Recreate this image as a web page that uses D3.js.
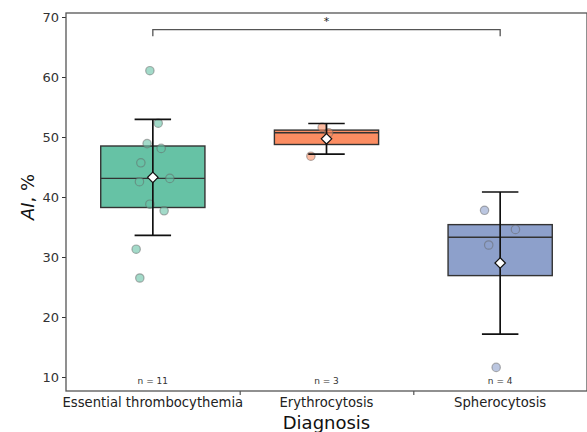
<!DOCTYPE html>
<html>
<head>
<meta charset="utf-8">
<script src="https://cdn.jsdelivr.net/npm/d3@7"></script>
<style>
  body { margin: 0; background: #fff; }
  text { font-family: "DejaVu Sans", sans-serif; }
</style>
</head>
<body>
<div id="chart"></div>
<script>
// categories and the raw points
const diagnoses = ["Essential thrombocythemia", "Erythrocytosis", "Spherocytosis"];
const colors = ["#66c2a5", "#fc8d62", "#8da0cb"];

const etValues = [61.05, 52.3, 48.9, 48.1, 45.7, 42.55, 43.1, 38.8, 37.7, 31.3, 26.5];
const etJitter = [-0.017, 0.031, -0.033, 0.048, -0.069, -0.077, 0.098, -0.017, 0.065, -0.096, -0.075];
const eryValues = [51.6, 50.7, 46.8];
const eryJitter = [-0.025, 0.013, -0.09];
const sphValues = [37.78, 34.6, 32.0, 11.6];
const sphJitter = [-0.09, 0.088, -0.066, -0.023];

const yTicks = [10, 20, 30, 40, 50, 60, 70];
const sigPair = [0, 2];
const sigLabel = "*";

const groups = [
  {values: etValues, jitter: etJitter},
  {values: eryValues, jitter: eryJitter},
  {values: sphValues, jitter: sphJitter}
];

const canvWidth = 587, canvHeight = 432;
const margin = {top: 13, right: 0, bottom: 41, left: 66};
const width = canvWidth - margin.left - margin.right;
const height = canvHeight - margin.top - margin.bottom;

const svg = d3.select("#chart").append("svg")
    .attr("width", canvWidth)
    .attr("height", canvHeight);

const g = svg.append("g")
    .attr("transform", "translate(" + margin.left + "," + margin.top + ")");

const xScale = d3.scaleLinear().domain([-0.5, 2.5]).range([0, width]);
const yScale = d3.scaleLinear().domain([7.667, 70.667]).range([height, 0]);

// y axis
const yAxis = d3.axisLeft(yScale).tickValues(yTicks).tickSize(4).tickPadding(3);
const gy = g.append("g").call(yAxis);
gy.select(".domain").remove();
gy.selectAll("line").attr("stroke", "#333");
gy.selectAll("text").attr("font-size", 13).attr("fill", "#333")
    .style("font-family", "DejaVu Sans, sans-serif");

// x axis, ticks sit between the categories
const xAxis = d3.axisBottom(xScale).tickValues([0.5, 1.5]).tickSize(4).tickFormat("");
const gx = g.append("g").attr("transform", "translate(0," + height + ")").call(xAxis);
gx.select(".domain").remove();
gx.selectAll("line").attr("stroke", "#333");

diagnoses.forEach((d, i) => {
  g.append("text")
    .attr("x", xScale(i))
    .attr("y", height + 16)
    .attr("text-anchor", "middle")
    .attr("font-size", 13.2)
    .attr("fill", "#222")
    .text(d);
});

// frame
g.append("rect")
    .attr("width", width).attr("height", height)
    .attr("fill", "none")
    .attr("stroke", "#555")
    .attr("stroke-width", 1.3);

// axis titles
svg.append("text")
    .attr("x", margin.left + xScale(1))
    .attr("y", canvHeight - 3)
    .attr("text-anchor", "middle")
    .attr("font-size", 18)
    .attr("fill", "#111")
    .text("Diagnosis");

const yl = svg.append("text")
    .attr("transform", "translate(34," + (margin.top + 184) + ") rotate(-90)")
    .attr("text-anchor", "middle")
    .attr("font-size", 18)
    .attr("fill", "#111");
yl.append("tspan").attr("font-style", "italic").text("AI");
yl.append("tspan").text(", %");

const boxW = 0.6, capW = 0.21;

groups.forEach((grp, i) => {
  const sorted = grp.values.slice().sort(d3.ascending);
  const q1 = d3.quantile(sorted, 0.25);
  const med = d3.quantile(sorted, 0.5);
  const q3 = d3.quantile(sorted, 0.75);
  const mean = d3.mean(sorted);
  const sd = d3.deviation(sorted);
  const cx = xScale(i);
  const bw = xScale(boxW) - xScale(0);
  const cw = xScale(capW) - xScale(0);

  // box
  g.append("rect")
    .attr("x", cx - bw / 2)
    .attr("y", yScale(q3))
    .attr("width", bw)
    .attr("height", yScale(q1) - yScale(q3))
    .attr("fill", colors[i])
    .attr("stroke", "#333")
    .attr("stroke-width", 1.4);

  g.append("line")
    .attr("x1", cx - bw / 2).attr("x2", cx + bw / 2)
    .attr("y1", yScale(med)).attr("y2", yScale(med))
    .attr("stroke", "#333").attr("stroke-width", 1.4);

  // points
  g.selectAll(null)
    .data(grp.values.map((v, k) => ({v: v, j: grp.jitter[k]})))
    .enter().append("circle")
    .attr("cx", d => xScale(i + d.j))
    .attr("cy", d => yScale(d.v))
    .attr("r", 4.2)
    .attr("fill", colors[i])
    .attr("fill-opacity", 0.6)
    .attr("stroke", "#666")
    .attr("stroke-opacity", 0.5)
    .attr("stroke-width", 1.2);

  // mean +- sd whiskers
  g.append("line")
    .attr("x1", cx).attr("x2", cx)
    .attr("y1", yScale(mean + sd)).attr("y2", yScale(mean - sd))
    .attr("stroke", "#111").attr("stroke-width", 1.7);
  [mean + sd, mean - sd].forEach(v => {
    g.append("line")
      .attr("x1", cx - cw / 2).attr("x2", cx + cw / 2)
      .attr("y1", yScale(v)).attr("y2", yScale(v))
      .attr("stroke", "#111").attr("stroke-width", 1.7);
  });

  // mean marker
  const my = yScale(mean);
  g.append("path")
    .attr("d", d3.symbol(d3.symbolDiamond2, 70)())
    .attr("transform", "translate(" + cx + "," + my + ")")
    .attr("fill", "#fff")
    .attr("stroke", "#111")
    .attr("stroke-width", 1.2);

  g.append("text")
    .attr("x", cx)
    .attr("y", height - 7)
    .attr("text-anchor", "middle")
    .attr("font-size", 9)
    .attr("fill", "#333")
    .text("n = " + grp.values.length);
});

// significance bracket
const bx1 = xScale(sigPair[0]), bx2 = xScale(sigPair[1]);
const by = 16.7, drop = 6.5;
g.append("path")
    .attr("d", "M" + bx1 + "," + (by + drop) + "V" + by + "H" + bx2 + "V" + (by + drop))
    .attr("fill", "none")
    .attr("stroke", "#555")
    .attr("stroke-width", 1.3);
g.append("text")
    .attr("x", (bx1 + bx2) / 2)
    .attr("y", by - 5)
    .attr("text-anchor", "middle")
    .attr("font-size", 11)
    .attr("fill", "#222")
    .text(sigLabel);
</script>
</body>
</html>
